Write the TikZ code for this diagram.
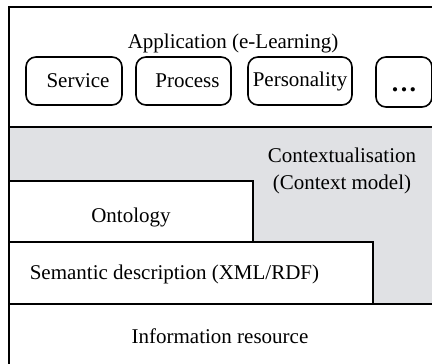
\documentclass[tikz,border=0pt]{standalone}
\usepackage{fontspec}
\setmainfont{Liberation Serif}
\definecolor{ctxgray}{RGB}{224,225,228}

\tikzset{
  label text/.style={font=\fontsize{10.5}{13.2}\selectfont, inner sep=0pt},
  app box/.style={draw, rounded corners=5pt, minimum height=24pt, inner sep=0pt,
    font=\fontsize{10.5}{12.5}\selectfont}
}

\begin{document}
\begin{tikzpicture}[x=0.5pt, y=-0.5pt, line width=0.8pt]
    \useasboundingbox (0,0) rectangle (432,363);
    \clip (0,0) rectangle (432,363);

    % layer corners
    \coordinate (TopLeft) at (9,7);
    \coordinate (FarRight) at (442,370);
    \coordinate (AppBottom) at (9,127);
    \coordinate (CtxBottom) at (442,304);

    % contextualisation layer
    \fill[ctxgray] (AppBottom) rectangle (CtxBottom);
    \draw[fill=white] (9,181) rectangle (253,242);
    \draw[fill=white] (9,242) rectangle (373,304);

    % frame and separators
    \draw (TopLeft) rectangle (FarRight);
    \draw (AppBottom) -- (442,127);
    \draw (9,304) -- (CtxBottom);

    % application layer
    \node[label text] (app) at (233,43) {Application (e-Learning)};
    \node[app box, minimum width=48pt] (service) at (74,81) {\hspace{4pt}Service};
    \node[app box, minimum width=47.5pt] (process) at (183.5,81) {\hspace{4pt}Process};
    \node[app box, minimum width=52pt] (personality) at (300,81) {Personality};
    \node[app box, minimum width=28pt, minimum height=25pt] (more) at (404,82)
      {\smash{\raisebox{-5pt}{\fontsize{13}{13}\selectfont\textbf{.\hspace{1.2pt}.\hspace{1.2pt}.}}}};

    % lower layers
    \node[label text, align=center] (context) at (342,171) {Contextualisation\\(Context model)};
    \node[label text] (ontology) at (131,217) {Ontology};
    \node[label text, anchor=west] (semantic) at (29,274) {Semantic description (XML/RDF)};
    \node[label text] (resource) at (220,336) {Information resource};

\end{tikzpicture}
\end{document}
